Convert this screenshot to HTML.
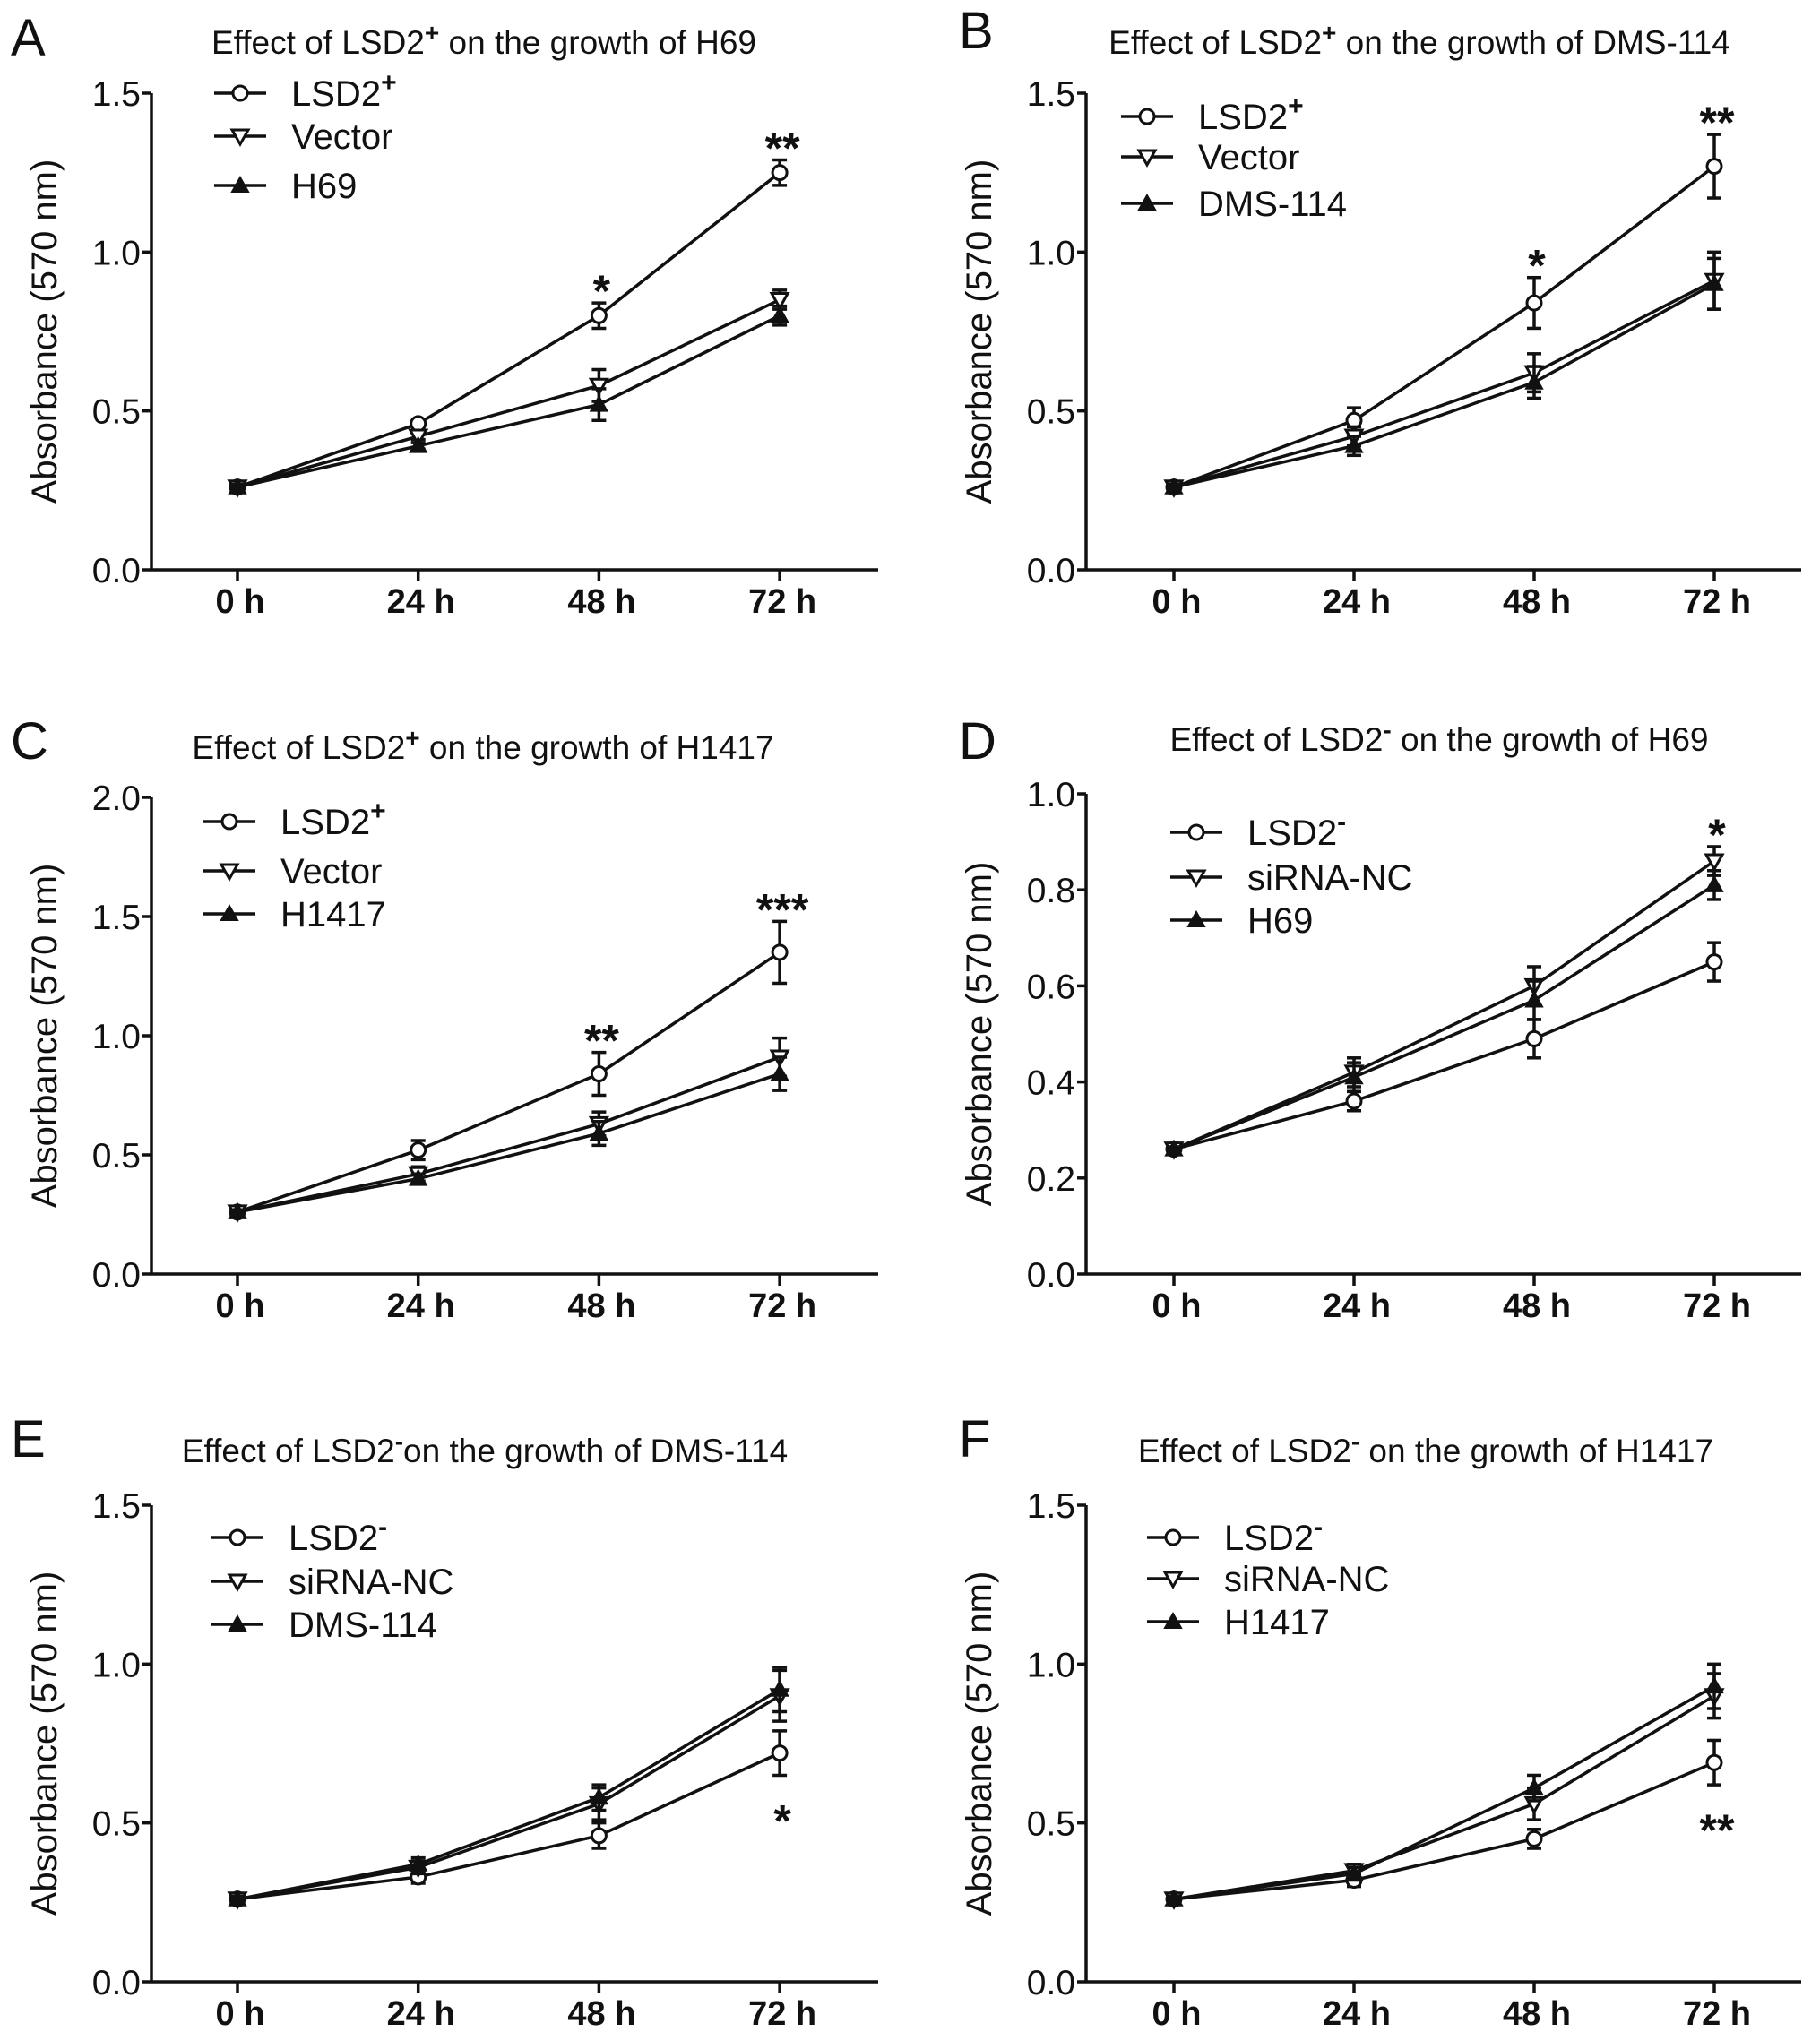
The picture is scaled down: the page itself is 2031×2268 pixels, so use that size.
<!DOCTYPE html>
<html><head><meta charset="utf-8"><style>
html,body{margin:0;padding:0;background:#fff}
svg{display:block}
text{font-family:"Liberation Sans",Arial,sans-serif;fill:#111}
</style></head><body>
<svg id="fig" width="2031" height="2268" viewBox="0 0 2031 2268" xmlns="http://www.w3.org/2000/svg"></svg>
<script>
const categories = ["0 h","24 h","48 h","72 h"];
// Panel A
const aNames = ["LSD2+","Vector","H69"];
const aLSD = [0.26,0.46,0.80,1.25]; const aLSDe=[0.01,0.01,0.04,0.04];
const aVec = [0.26,0.42,0.58,0.85]; const aVece=[0.01,0.01,0.05,0.03];
const aCtl = [0.26,0.39,0.52,0.80]; const aCtle=[0.01,0.01,0.05,0.03];
const aStars = ["","","*","**"];
// Panel B
const bNames = ["LSD2+","Vector","DMS-114"];
const bLSD = [0.26,0.47,0.84,1.27]; const bLSDe=[0.01,0.04,0.08,0.10];
const bVec = [0.26,0.42,0.62,0.91]; const bVece=[0.01,0.03,0.06,0.09];
const bCtl = [0.26,0.39,0.59,0.90]; const bCtle=[0.01,0.03,0.05,0.08];
const bStars = ["","","*","**"];
// Panel C
const cNames = ["LSD2+","Vector","H1417"];
const cLSD = [0.26,0.52,0.84,1.35]; const cLSDe=[0.01,0.04,0.09,0.13];
const cVec = [0.26,0.42,0.63,0.91]; const cVece=[0.01,0.03,0.05,0.08];
const cCtl = [0.26,0.40,0.59,0.84]; const cCtle=[0.01,0.02,0.05,0.07];
const cStars = ["","","**","***"];
// Panel D
const dNames = ["LSD2-","siRNA-NC","H69"];
const dLSD = [0.26,0.36,0.49,0.65]; const dLSDe=[0.005,0.02,0.04,0.04];
const dVec = [0.26,0.42,0.60,0.86]; const dVece=[0.005,0.03,0.04,0.03];
const dCtl = [0.26,0.41,0.57,0.81]; const dCtle=[0.005,0.03,0.04,0.03];
const dStars = ["","","","*"];
// Panel E
const eNames = ["LSD2-","siRNA-NC","DMS-114"];
const eLSD = [0.26,0.33,0.46,0.72]; const eLSDe=[0.01,0.02,0.04,0.07];
const eVec = [0.26,0.36,0.56,0.90]; const eVece=[0.01,0.02,0.05,0.08];
const eCtl = [0.26,0.37,0.58,0.92]; const eCtle=[0.01,0.02,0.04,0.07];
const eStars = ["","","","*"];
// Panel F
const fNames = ["LSD2-","siRNA-NC","H1417"];
const fLSD = [0.26,0.32,0.45,0.69]; const fLSDe=[0.01,0.02,0.03,0.07];
const fVec = [0.26,0.35,0.56,0.90]; const fVece=[0.01,0.02,0.05,0.07];
const fCtl = [0.26,0.34,0.61,0.93]; const fCtle=[0.01,0.02,0.04,0.07];
const fStars = ["","","","**"];
const ticks15 = [0,0.5,1.0,1.5];
const ticks20 = [0,0.5,1.0,1.5,2.0];
const ticks10 = [0,0.2,0.4,0.6,0.8,1.0];

const NS="http://www.w3.org/2000/svg";
const svg=document.getElementById('fig');
function mk(tag,attrs,parent){const e=document.createElementNS(NS,tag);for(const k in attrs)e.setAttribute(k,attrs[k]);(parent||svg).appendChild(e);return e;}

const panels=[
 {id:'a',letter:'A',lx:12,ly:62,title:'Effect of LSD2',sup:'+',rest:' on the growth of H69',tx:540,ty:60,ax:169,x0:265,dx:201.7,yTop:104,yBot:636,xEnd:980,ymax:1.5,ticks:ticks15,dec:1,names:aNames,ser:[[aLSD,aLSDe],[aVec,aVece],[aCtl,aCtle]],stars:aStars,starBelow:false,legX:239,legY:[104,152,207]},
 {id:'b',letter:'B',lx:1070,ly:54,title:'Effect of LSD2',sup:'+',rest:' on the growth of DMS-114',tx:1584,ty:60,ax:1212,x0:1310,dx:201,yTop:104,yBot:636,xEnd:2010,ymax:1.5,ticks:ticks15,dec:1,names:bNames,ser:[[bLSD,bLSDe],[bVec,bVece],[bCtl,bCtle]],stars:bStars,starBelow:false,legX:1251,legY:[130,175,227]},
 {id:'c',letter:'C',lx:12,ly:847,title:'Effect of LSD2',sup:'+',rest:' on the growth of H1417',tx:539,ty:847,ax:169,x0:265,dx:201.7,yTop:890,yBot:1422,xEnd:980,ymax:2.0,ticks:ticks20,dec:1,names:cNames,ser:[[cLSD,cLSDe],[cVec,cVece],[cCtl,cCtle]],stars:cStars,starBelow:false,legX:227,legY:[917,972,1020]},
 {id:'d',letter:'D',lx:1070,ly:847,title:'Effect of LSD2',sup:'-',rest:' on the growth of H69',tx:1606,ty:838,ax:1212,x0:1310,dx:201,yTop:886,yBot:1422,xEnd:2010,ymax:1.0,ticks:ticks10,dec:1,names:dNames,ser:[[dLSD,dLSDe],[dVec,dVece],[dCtl,dCtle]],stars:dStars,starBelow:false,legX:1306,legY:[929,979,1027]},
 {id:'e',letter:'E',lx:12,ly:1626,title:'Effect of LSD2',sup:'-',rest:'on the growth of DMS-114',tx:541,ty:1632,ax:169,x0:265,dx:201.7,yTop:1680,yBot:2212,xEnd:980,ymax:1.5,ticks:ticks15,dec:1,names:eNames,ser:[[eLSD,eLSDe],[eVec,eVece],[eCtl,eCtle]],stars:eStars,starBelow:true,legX:236,legY:[1716,1765,1813]},
 {id:'f',letter:'F',lx:1070,ly:1626,title:'Effect of LSD2',sup:'-',rest:'  on the growth of H1417',tx:1591,ty:1632,ax:1212,x0:1310,dx:201,yTop:1680,yBot:2212,xEnd:2010,ymax:1.5,ticks:ticks15,dec:1,names:fNames,ser:[[fLSD,fLSDe],[fVec,fVece],[fCtl,fCtle]],stars:fStars,starBelow:true,legX:1280,legY:[1716,1762,1810]}
];

function marker(g,type,x,y){
  let m;
  if(type===0){m=mk('circle',{cx:x,cy:y,r:8,fill:'#fff',stroke:'#111','stroke-width':3},g);}
  else if(type===1){m=mk('polygon',{points:`${x-9},${y-7} ${x+9},${y-7} ${x},${y+9}`,fill:'#fff',stroke:'#111','stroke-width':3},g);}
  else {m=mk('polygon',{points:`${x-9},${y+7} ${x+9},${y+7} ${x},${y-9}`,fill:'#111',stroke:'#111','stroke-width':2},g);}
  return m;
}

panels.forEach(p=>{
  const g=mk('g',{});
  
  
  const xs=i=>p.x0+i*p.dx;
  const ys=v=>p.yBot-(v/p.ymax)*(p.yBot-p.yTop);
  const L=mk('text',{x:p.lx,y:p.ly,'font-size':58},g); L.textContent=p.letter;
  
  
  const T=mk('text',{x:p.tx,y:p.ty,'font-size':37,'text-anchor':'middle'},g);
  
  
  T.appendChild(document.createTextNode(p.title));
  const s=mk('tspan',{dy:-14,'font-size':28,'font-weight':'bold'},T); s.textContent=p.sup;
  const r=mk('tspan',{dy:14},T); r.textContent=p.rest;
  const ya=mk('line',{x1:p.ax,y1:p.yTop,x2:p.ax,y2:p.yBot,stroke:'#111','stroke-width':3.5},g);
  
  
  const xa=mk('line',{x1:p.ax,y1:p.yBot,x2:p.xEnd,y2:p.yBot,stroke:'#111','stroke-width':3.5},g);
  
  
  p.ticks.forEach(t=>{
    const y=ys(t);
    mk('line',{x1:p.ax-10,y1:y,x2:p.ax,y2:y,stroke:'#111','stroke-width':3.5},g);
    const tl=mk('text',{x:p.ax-12,y:y+14,'font-size':39,'text-anchor':'end'},g);
    tl.textContent=t.toFixed(p.dec);
    
    
  });
  categories.forEach((c,i)=>{
    const x=xs(i);
    mk('line',{x1:x,y1:p.yBot,x2:x,y2:p.yBot+13,stroke:'#111','stroke-width':3.5},g);
    const tl=mk('text',{x:x+3,y:p.yBot+48,'font-size':38,'text-anchor':'middle','font-weight':'bold'},g);
    tl.textContent=c;
    
    
  });
  const yt=mk('text',{x:0,y:0,'font-size':40,'text-anchor':'middle',transform:`translate(${p.ax-106},${(p.yTop+p.yBot)/2}) rotate(-90)`},g);
  yt.textContent='Absorbance  (570 nm)';
  
  
  p.ser.forEach((sd,k)=>{
    const vals=sd[0],errs=sd[1];
    const sg=mk('g',{},g);
    
    
    const pts=vals.map((v,i)=>xs(i)+','+ys(v)).join(' ');
    mk('polyline',{points:pts,fill:'none',stroke:'#111','stroke-width':3.5},sg);
    vals.forEach((v,i)=>{
      const x=xs(i),y1=ys(v+errs[i]),y2=ys(v-errs[i]);
      mk('line',{x1:x,y1:y1,x2:x,y2:y2,stroke:'#111','stroke-width':3.5},sg);
      mk('line',{x1:x-8,y1:y1,x2:x+8,y2:y1,stroke:'#111','stroke-width':3.5},sg);
      mk('line',{x1:x-8,y1:y2,x2:x+8,y2:y2,stroke:'#111','stroke-width':3.5},sg);
      const m=marker(sg,k,x,ys(v));
      
      
    });
  });
  p.stars.forEach((st,i)=>{
    if(!st)return;
    const lsd=p.ser[0],maxTop=Math.max(...p.ser.map(s=>s[0][i]+s[1][i]));
    let y;
    if(p.starBelow){y=ys(lsd[0][i]-lsd[1][i])+50;}
    else {y=ys(maxTop)-14;}
    const t=mk('text',{x:xs(i)+3,y:y+18,'font-size':50,'font-weight':'bold','text-anchor':'middle'},g);
    t.textContent=st;
    
    
  });
  p.names.forEach((n,k)=>{
    const y=p.legY[k];
    const lg=mk('g',{},g);
    
    
    mk('line',{x1:p.legX,y1:y,x2:p.legX+58,y2:y,stroke:'#111','stroke-width':3.5},lg);
    marker(lg,k,p.legX+29,y);
    const base=n.replace(/[+-]$/,''),sup=n.slice(base.length);
    const t=mk('text',{x:p.legX+86,y:y+14,'font-size':40},lg);
    t.appendChild(document.createTextNode(base));
    if(sup){const ss=mk('tspan',{dy:-16,'font-size':30,'font-weight':'bold'},t);ss.textContent=sup;}
  });
});
</script>
</body></html>
